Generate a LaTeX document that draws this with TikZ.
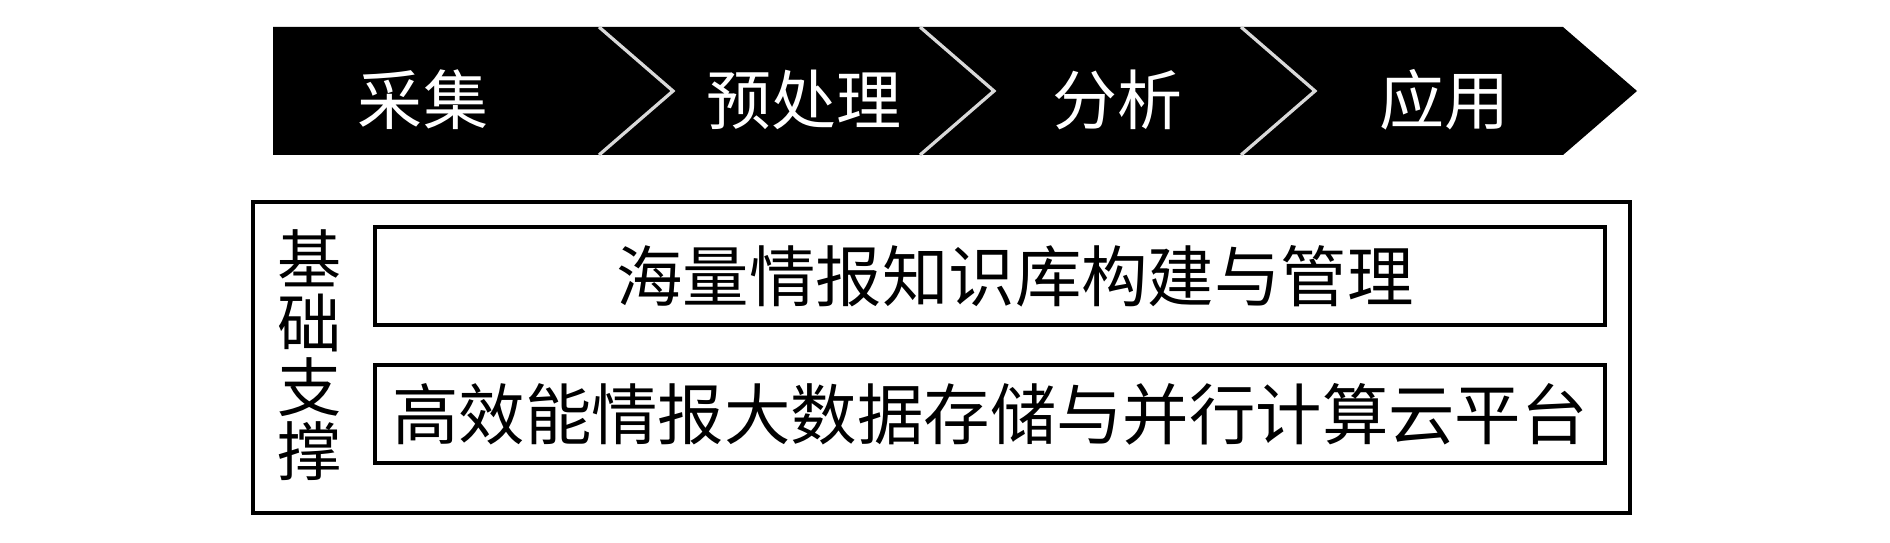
\documentclass[tikz,border=0pt]{standalone}
\usepackage{fontspec}
\newfontfamily\cjk{Noto Sans CJK SC}
\begin{document}
\begin{tikzpicture}[x=0.02cm,y=-0.02cm,
  stage/.style={text=white, inner sep=0pt, font=\cjk\fontsize{37pt}{37pt}\selectfont},
  frame/.style={draw=black, line width=0.08cm},
  sep/.style={draw=white!85!black, line width=0.065cm},
  label/.style={inner sep=0pt, font=\cjk\fontsize{37.8pt}{37.8pt}\selectfont}]
\useasboundingbox (0,0) rectangle (1890,543);
% chevron band
\fill[black] (273,27) -- (1563,27) -- (1637,91) -- (1563,155) -- (273,155) -- cycle;
\draw[sep] (599,27) -- (673,91) -- (599,155);
\draw[sep] (920,27) -- (994,91) -- (920,155);
\draw[sep] (1241,27) -- (1315,91) -- (1241,155);
\node[stage] (s1) at (423,100) {采集};
\node[stage] (s2) at (804,100) {预处理};
\node[stage] (s3) at (1117,100) {分析};
\node[stage] (s4) at (1444,100) {应用};
% foundation
\draw[frame] (253,202) rectangle (1630,513);
\draw[frame] (375,227) rectangle (1605,325);
\draw[frame] (375,365) rectangle (1605,463);
\node[label, align=center, font=\cjk\fontsize{36.5pt}{36.3pt}\selectfont] (base) at (310,355) {基\\础\\支\\撑};
\node[label] (kb) at (1015,276) {海量情报知识库构建与管理};
\node[label] (cloud) at (990,414) {高效能情报大数据存储与并行计算云平台};
\end{tikzpicture}
\end{document}
